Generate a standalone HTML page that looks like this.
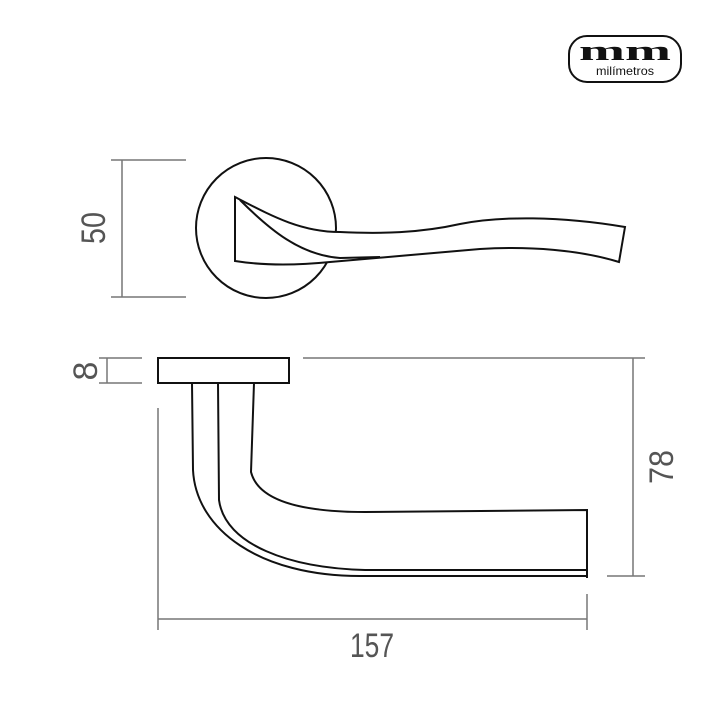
<!DOCTYPE html>
<html><head><meta charset="utf-8"><style>html,body{margin:0;padding:0;background:#fff;}svg{display:block}</style></head>
<body>
<svg width="720" height="720" viewBox="0 0 720 720" xmlns="http://www.w3.org/2000/svg">
<rect width="720" height="720" fill="#fff"/>
<!-- logo -->
<rect x="569" y="36" width="112" height="46" rx="18" fill="#fff" stroke="#111" stroke-width="2"/>
<text x="625" y="60" text-anchor="middle" font-family="Liberation Serif, serif" font-weight="bold" font-size="28" textLength="92" lengthAdjust="spacingAndGlyphs" fill="#111">mm</text>
<text x="625" y="75" text-anchor="middle" font-family="Liberation Sans, sans-serif" font-size="12" textLength="58" lengthAdjust="spacingAndGlyphs" fill="#111">milímetros</text>

<g stroke="#777" stroke-width="1.5" fill="none">
<line x1="111" y1="160" x2="186" y2="160"/><line x1="111" y1="297" x2="186" y2="297"/><line x1="122" y1="160" x2="122" y2="297"/>
<line x1="99" y1="358" x2="142" y2="358"/><line x1="99" y1="383" x2="142" y2="383"/><line x1="107" y1="358" x2="107" y2="383"/>
<line x1="303" y1="358" x2="645" y2="358"/><line x1="607" y1="576" x2="645" y2="576"/><line x1="633" y1="358" x2="633" y2="576"/>
<line x1="158" y1="408" x2="158" y2="630"/><line x1="587" y1="594" x2="587" y2="630"/><line x1="158" y1="619" x2="587" y2="619"/>
</g>
<g font-family="Liberation Sans, sans-serif" font-size="34" fill="#555" text-anchor="middle">
<text x="372" y="657" textLength="44" lengthAdjust="spacingAndGlyphs">157</text>
<text transform="translate(105,228) rotate(-90)" textLength="32" lengthAdjust="spacingAndGlyphs">50</text>
<text transform="translate(97,371) rotate(-90)">8</text>
<text transform="translate(673,467) rotate(-90)" textLength="34" lengthAdjust="spacingAndGlyphs">78</text>
</g>

<g stroke="#111" stroke-width="2" fill="none">
<circle cx="266" cy="228" r="70" fill="#fff"/>
<path d="M235,197 C270,215 300,232 340,232 C380,234 420,233 460,224 C500,216 560,216 625,227 L619,262 C580,250 530,246 480,249 C430,253 380,258 330,262 C290,266 260,265 235,261 Z" fill="#fff"/>
<path d="M240,200 C270,230 300,255 340,258 L380,257"/>
<rect x="158" y="358" width="131" height="25" fill="#fff"/>
<path d="M192,383 L193,470 C196,530 260,576 360,576 L587,576"/>
<path d="M218,383 L219,500 C225,545 290,568 365,570 L587,570"/>
<path d="M254,383 L251,472 C258,500 300,512 365,512 L587,510 L587,578"/>
</g>
</svg>
</body></html>
